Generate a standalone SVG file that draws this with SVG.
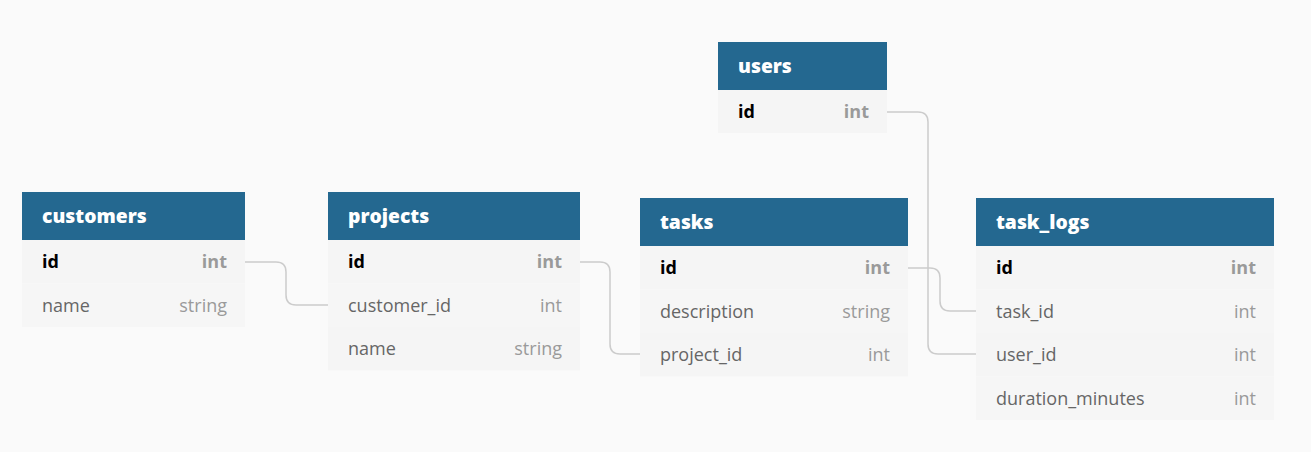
<svg xmlns="http://www.w3.org/2000/svg" width="1311" height="452" viewBox="0 0 1311 452">
<style>
.bg{fill:#fafafa}
.hd{fill:#246890}
.r1{fill:#f5f5f5}
.r2{fill:#f6f6f6}
.ht{font-family:"Open Sans",sans-serif;font-size:19.3px;font-weight:800;fill:#ffffff}
.pk{font-family:"Open Sans",sans-serif;font-size:18px;font-weight:700;fill:#000000}
.pt{font-family:"Open Sans",sans-serif;font-size:18px;font-weight:700;fill:#9a9a9a;text-anchor:end}
.fn{font-family:"Open Sans",sans-serif;font-size:18px;fill:#666666}
.ft{font-family:"Open Sans",sans-serif;font-size:18px;fill:#9a9a9a;text-anchor:end}
.cn{fill:none;stroke:#cccccc;stroke-width:1.5}
</style>
<rect class="bg" x="0" y="0" width="1311" height="452"/>
<g id="connectors">
<path class="cn" d="M245 262 H276 Q286 262 286 272 V295 Q286 305 296 305 H328"/>
<path class="cn" d="M580 262 H600 Q610 262 610 272 V344 Q610 354 620 354 H640"/>
<path class="cn" d="M908 268 H930 Q940 268 940 278 V301 Q940 311 950 311 H976"/>
<path class="cn" d="M887 112 H918 Q928 112 928 122 V344 Q928 354 938 354 H976"/>
</g>
<g id="users">
<rect class="hd" x="718" y="42" width="169" height="48"/>
<text class="ht" x="738" y="73">users</text>
<rect class="r1" x="718" y="90" width="169" height="43"/>
<text class="pk" x="738" y="118">id</text>
<text class="pt" x="869" y="118">int</text>
</g>
<g id="customers">
<rect class="hd" x="22" y="192" width="223" height="48"/>
<text class="ht" x="42" y="223">customers</text>
<rect class="r1" x="22" y="240" width="223" height="43.5"/>
<rect class="r2" x="22" y="283.5" width="223" height="43.5"/>
<text class="pk" x="42" y="268">id</text>
<text class="pt" x="227" y="268">int</text>
<text class="fn" x="42" y="312">name</text>
<text class="ft" x="227" y="312">string</text>
</g>
<g id="projects">
<rect class="hd" x="328" y="192" width="252" height="48"/>
<text class="ht" x="348" y="223">projects</text>
<rect class="r1" x="328" y="240" width="252" height="43.5"/>
<rect class="r2" x="328" y="283.5" width="252" height="43.5"/>
<rect class="r1" x="328" y="327" width="252" height="43.5"/>
<text class="pk" x="348" y="268">id</text>
<text class="pt" x="562" y="268">int</text>
<text class="fn" x="348" y="312">customer_id</text>
<text class="ft" x="562" y="312">int</text>
<text class="fn" x="348" y="355">name</text>
<text class="ft" x="562" y="355">string</text>
</g>
<g id="tasks">
<rect class="hd" x="640" y="198" width="268" height="48"/>
<text class="ht" x="660" y="229">tasks</text>
<rect class="r1" x="640" y="246" width="268" height="43.5"/>
<rect class="r2" x="640" y="289.5" width="268" height="43.5"/>
<rect class="r1" x="640" y="333" width="268" height="43.5"/>
<text class="pk" x="660" y="274">id</text>
<text class="pt" x="890" y="274">int</text>
<text class="fn" x="660" y="318">description</text>
<text class="ft" x="890" y="318">string</text>
<text class="fn" x="660" y="361">project_id</text>
<text class="ft" x="890" y="361">int</text>
</g>
<g id="task_logs">
<rect class="hd" x="976" y="198" width="298" height="48"/>
<text class="ht" x="996" y="229">task_logs</text>
<rect class="r1" x="976" y="246" width="298" height="43.5"/>
<rect class="r2" x="976" y="289.5" width="298" height="43.5"/>
<rect class="r1" x="976" y="333" width="298" height="43.5"/>
<rect class="r2" x="976" y="376.5" width="298" height="43.5"/>
<text class="pk" x="996" y="274">id</text>
<text class="pt" x="1256" y="274">int</text>
<text class="fn" x="996" y="318">task_id</text>
<text class="ft" x="1256" y="318">int</text>
<text class="fn" x="996" y="361">user_id</text>
<text class="ft" x="1256" y="361">int</text>
<text class="fn" x="996" y="405">duration_minutes</text>
<text class="ft" x="1256" y="405">int</text>
</g>
</svg>
